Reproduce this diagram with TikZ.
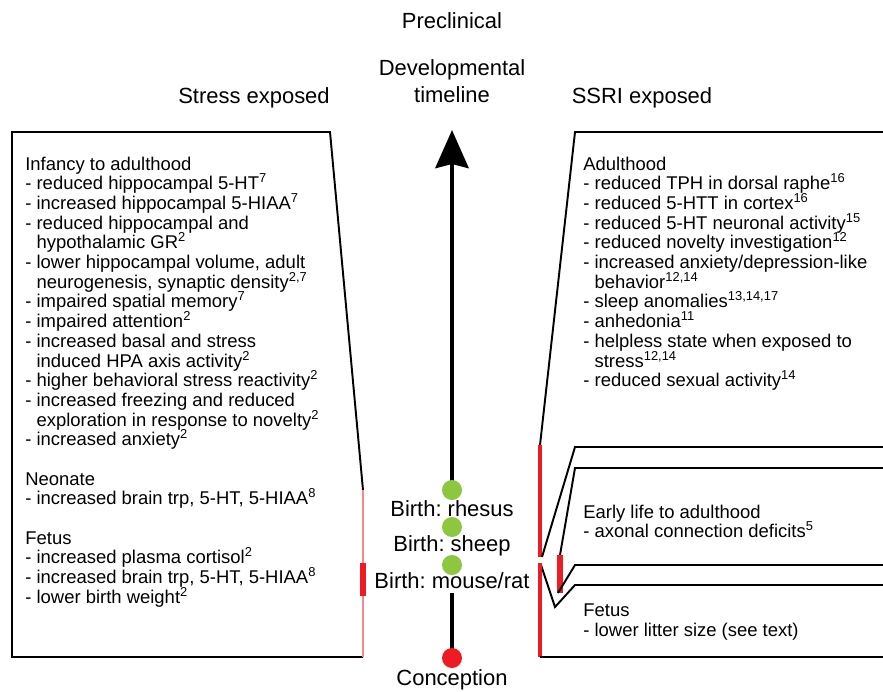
\documentclass[tikz,border=0pt]{standalone}
\usepackage{fontspec}
\setmainfont{Liberation Sans}
\usetikzlibrary{arrows.meta}

\definecolor{expred}{RGB}{237,28,36}
\definecolor{exppink}{RGB}{248,134,144}
\definecolor{birthgreen}{RGB}{141,198,63}
\newcommand{\wrapind}{\phantom{- }}
\newcommand{\bodyfont}{\fontsize{10.5}{11.2}\selectfont\lineskiplimit=-20pt\relax}
\frenchspacing

\begin{document}
\begin{tikzpicture}[x=0.02cm, y=-0.02cm,
    frame/.style={draw, line width=1.1pt},
    window/.style={draw=expred, line width=2.2pt},
    spike/.style={draw=expred, line width=3pt},
    body/.style={anchor=north west, align=left, inner sep=0pt, font=\bodyfont},
    heading/.style={anchor=base, align=center, inner sep=0pt, font=\fontsize{12.5}{15.3}\selectfont},
    birth/.style={circle, fill=birthgreen, minimum size=4mm, inner sep=0pt},
    stage/.style={anchor=base, fill=white, inner xsep=1pt, inner ysep=3pt, font=\fontsize{12.5}{15}\selectfont}
]
\useasboundingbox (0,0) rectangle (883,691);

% Headings
\node[heading] (precl) at (452,28) {Preclinical};
\node[heading] (devtl) at (452,102) {Developmental\\timeline};
\node[heading] (stress) at (254,103) {Stress exposed};
\node[heading] (ssri) at (642,103) {SSRI exposed};

% Stress exposed panel
\draw[frame] (363,490) -- (330,132) -- (12,132) -- (12,657) -- (363,657);
\draw[draw=exppink, line width=1.7pt] (363,490) -- (363,657);
\draw[spike] (363,563) -- (363,596);
\node[body] (stresstxt) at (25,156.5) {
Infancy to adulthood\\
- reduced hippocampal 5-HT\textsuperscript{7}\\
- increased hippocampal 5-HIAA\textsuperscript{7}\\
- reduced hippocampal and\\
\wrapind hypothalamic GR\textsuperscript{2}\\
- lower hippocampal volume, adult\\
\wrapind neurogenesis, synaptic density\textsuperscript{2,7}\\
- impaired spatial memory\textsuperscript{7}\\
- impaired attention\textsuperscript{2}\\
- increased basal and stress\\
\wrapind induced HPA axis activity\textsuperscript{2}\\
- higher behavioral stress reactivity\textsuperscript{2}\\
- increased freezing and reduced\\
\wrapind exploration in response to novelty\textsuperscript{2}\\
- increased anxiety\textsuperscript{2}\\[11.2pt]
Neonate\\
- increased brain trp, 5-HT, 5-HIAA\textsuperscript{8}\\[11.2pt]
Fetus\\
- increased plasma cortisol\textsuperscript{2}\\
- increased brain trp, 5-HT, 5-HIAA\textsuperscript{8}\\
- lower birth weight\textsuperscript{2}
};

% SSRI exposed panel: adulthood
\draw[frame] (540,445) -- (575,132) -- (883,132);
\draw[window] (540,445) -- (540,557);
\draw[frame] (542,557) -- (575,447) -- (883,447);
\node[body] (adulttxt) at (583,156.5) {
Adulthood\\
- reduced TPH in dorsal raphe\textsuperscript{16}\\
- reduced 5-HTT in cortex\textsuperscript{16}\\
- reduced 5-HT neuronal activity\textsuperscript{15}\\
- reduced novelty investigation\textsuperscript{12}\\
- increased anxiety/depression-like\\
\wrapind behavior\textsuperscript{12,14}\\
- sleep anomalies\textsuperscript{13,14,17}\\
- anhedonia\textsuperscript{11}\\
- helpless state when exposed to\\
\wrapind stress\textsuperscript{12,14}\\
- reduced sexual activity\textsuperscript{14}
};

% early life
\draw[frame] (560,555) -- (575,468) -- (883,468);
\draw[spike] (560,555) -- (560,593);
\draw[frame] (558,593) -- (575,565) -- (883,565);
\node[body] (earlytxt) at (583,504.5) {
Early life to adulthood\\
- axonal connection deficits\textsuperscript{5}
};

% fetus
\draw[frame] (541,565) -- (555,607) -- (575,585) -- (883,585);
\draw[window] (540,563) -- (540,657);
\draw[frame] (540,657) -- (883,657);
\node[body] (fetustxt) at (583,603.7) {
Fetus\\
- lower litter size (see text)
};

% Timeline
\coordinate (top) at (452,130);
\coordinate (start) at (452,658);
\draw[line width=2.8pt, -{Stealth[length=7.6mm, width=6.6mm, inset=0.8mm]}] (start) -- (top);
\node[stage] (lrh) at (452,516) {Birth: rhesus};
\node[stage] (lsh) at (452,551) {Birth: sheep};
\node[stage] (lmr) at (452,588) {Birth: mouse/rat};
\foreach \y/\n in {490/rh, 527/sh, 565/mr}
    \node[birth] (b\n) at (452,\y) {};
\node[circle, fill=expred, minimum size=4mm, inner sep=0pt] (conc) at (start) {};
\node[heading] (conclbl) at (452,685) {Conception};

\end{tikzpicture}
\end{document}
